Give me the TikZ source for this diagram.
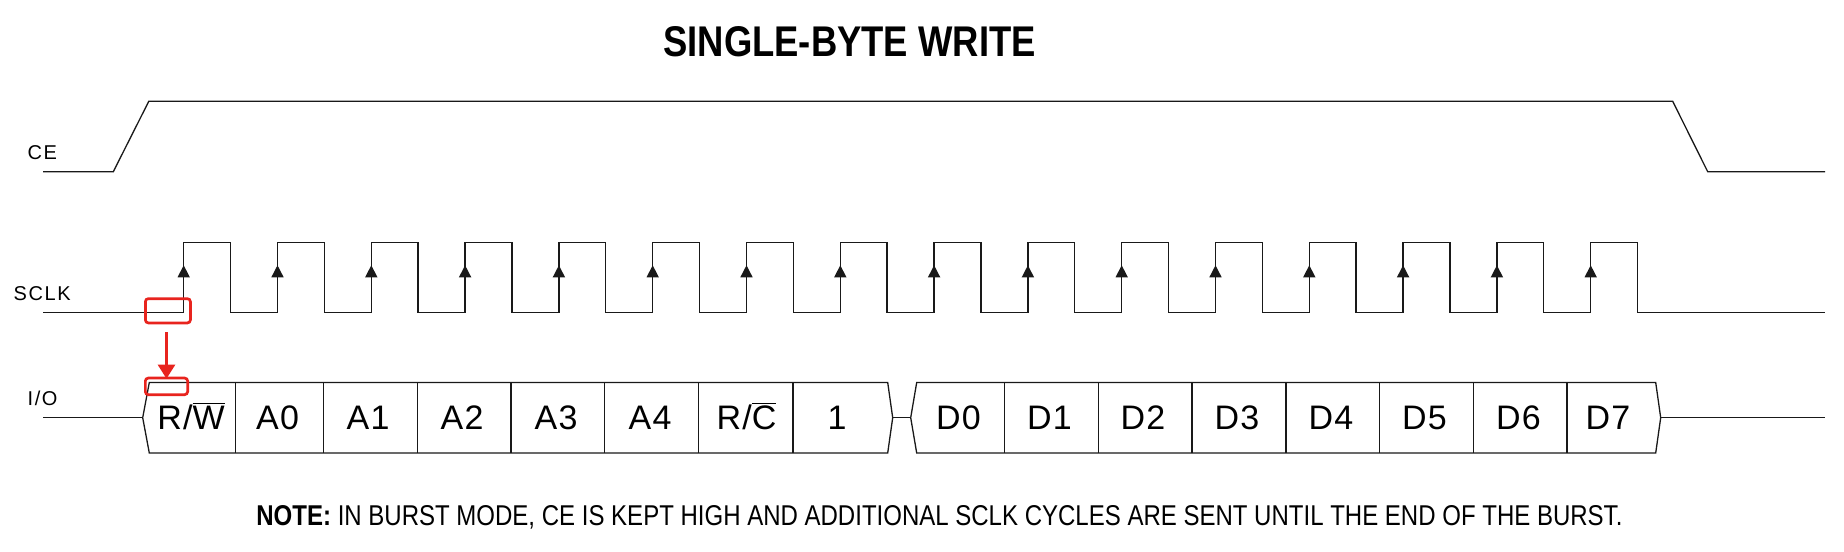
\documentclass[tikz,border=0pt]{standalone}
\usepackage{graphicx}
\usepackage{fontspec}
\setmainfont{Liberation Sans}
\newfontfamily\sigfont[LetterSpace=8]{Liberation Sans}
\newfontfamily\cellfont[LetterSpace=4]{Liberation Sans}
\usetikzlibrary{arrows.meta}
\definecolor{annot}{RGB}{232,36,30}
\definecolor{wirecol}{RGB}{25,25,25}
\begin{document}
\begin{tikzpicture}[x=0.5pt,y=-0.5pt,
  wire/.style={draw=wirecol,line width=0.65pt,line join=miter},
  sig/.style={font=\sigfont\fontsize{10}{12}\selectfont,inner sep=0,anchor=base west},
  cell/.style={font=\cellfont\fontsize{17}{20}\selectfont,inner sep=0,anchor=base},
  redbox/.style={draw=annot,line width=1.35pt,rounded corners=1.5pt,inner sep=0},
  redarrow/.style={draw=annot,line width=1.2pt,-{Triangle[width=8.5pt,length=7pt]}},
  edgetip/.style={fill=wirecol}]
\useasboundingbox (0,0) rectangle (1844,552);

% title and note
\node[inner sep=0,anchor=base] (title) at (849.5,56.3)
  {\resizebox{186.2pt}{15pt}{\bfseries SINGLE-BYTE WRITE}};
\node[inner sep=0,anchor=base west] (note) at (256,525)
  {\resizebox{683pt}{10pt}{\textbf{NOTE:} IN BURST MODE, CE IS KEPT HIGH AND ADDITIONAL SCLK CYCLES ARE SENT UNTIL THE END OF THE BURST.}};

% signal names
\node[sig] (ce) at (27.3,159.3) {CE};
\node[sig] (sclk) at (13.3,300) {SCLK};
\node[sig] (io) at (27.3,405) {I/O};

% CE
\draw[wire] (43,171.7) -- (113.3,171.7) -- (148.8,101.3) -- (1672.7,101.3)
  -- (1707.7,171.7) -- (1825,171.7);

% SCLK
\draw[wire] (43,312.3)
  \foreach \i in {0,...,15}{
    -- ({183.7+93.8*\i},312.3) -- ({183.7+93.8*\i},242.3)
    -- ({230.5+93.8*\i},242.3) -- ({230.5+93.8*\i},312.3)}
  -- (1825,312.3);
\foreach \i in {0,...,15}
  \fill[edgetip] ({183.7+93.8*\i},265.3) -- ++(-6.2,12) -- ++(12.4,0) -- cycle;

% I/O
\draw[wire] (43,417.7) -- (142.7,417.7);
\draw[wire] (142.7,417.7) -- (149.3,382.5) -- (887.7,382.5) -- (892.7,417.7)
  -- (887.7,453) -- (149.3,453) -- cycle;
\draw[wire] (892.7,417.7) -- (910.7,417.7);
\draw[wire] (910.7,417.7) -- (916.7,382.5) -- (1655.7,382.5) -- (1660.7,417.7)
  -- (1655.7,453) -- (916.7,453) -- cycle;
\draw[wire] (1660.7,417.7) -- (1825,417.7);
\foreach \x in {235.7,323.3,417.6,511,604.7,698.8,793,1004.3,1098.5,1192,1286,1379.6,1473.8,1567}
  \draw[wire] (\x,382.5) -- (\x,453);

% cell labels
\node[cell] (rw) at (191,429.5) {R/$\overline{\mbox{W}}$};
\node[cell] (a0) at (277.5,429.5) {A0};
\node[cell] (a1) at (368,429.5) {A1};
\node[cell] (a2) at (462,429.5) {A2};
\node[cell] (a3) at (556,429.5) {A3};
\node[cell] (a4) at (650,429.5) {A4};
\node[cell] (rc) at (746.5,429.5) {R/$\overline{\mbox{C}}$};
\node[cell] (one) at (837,429.5) {1};
\node[cell] (d0) at (958.5,429.5) {D0};
\node[cell] (d1) at (1049.5,429.5) {D1};
\node[cell] (d2) at (1143,429.5) {D2};
\node[cell] (d3) at (1237,429.5) {D3};
\node[cell] (d4) at (1331,429.5) {D4};
\node[cell] (d5) at (1424.5,429.5) {D5};
\node[cell] (d6) at (1518.5,429.5) {D6};
\node[cell] (d7) at (1608,429.5) {D7};

% red annotation
\node[redbox,minimum width=22.5pt,minimum height=12.15pt] (rb1) at (167.9,310.8) {};
\node[redbox,minimum width=21.15pt,minimum height=8.3pt] (rb2) at (166.5,386.35) {};
\draw[redarrow,shorten <=4pt,shorten >=-1pt] (rb2.north |- rb1.south) -- (rb2.north);
\end{tikzpicture}
\end{document}
